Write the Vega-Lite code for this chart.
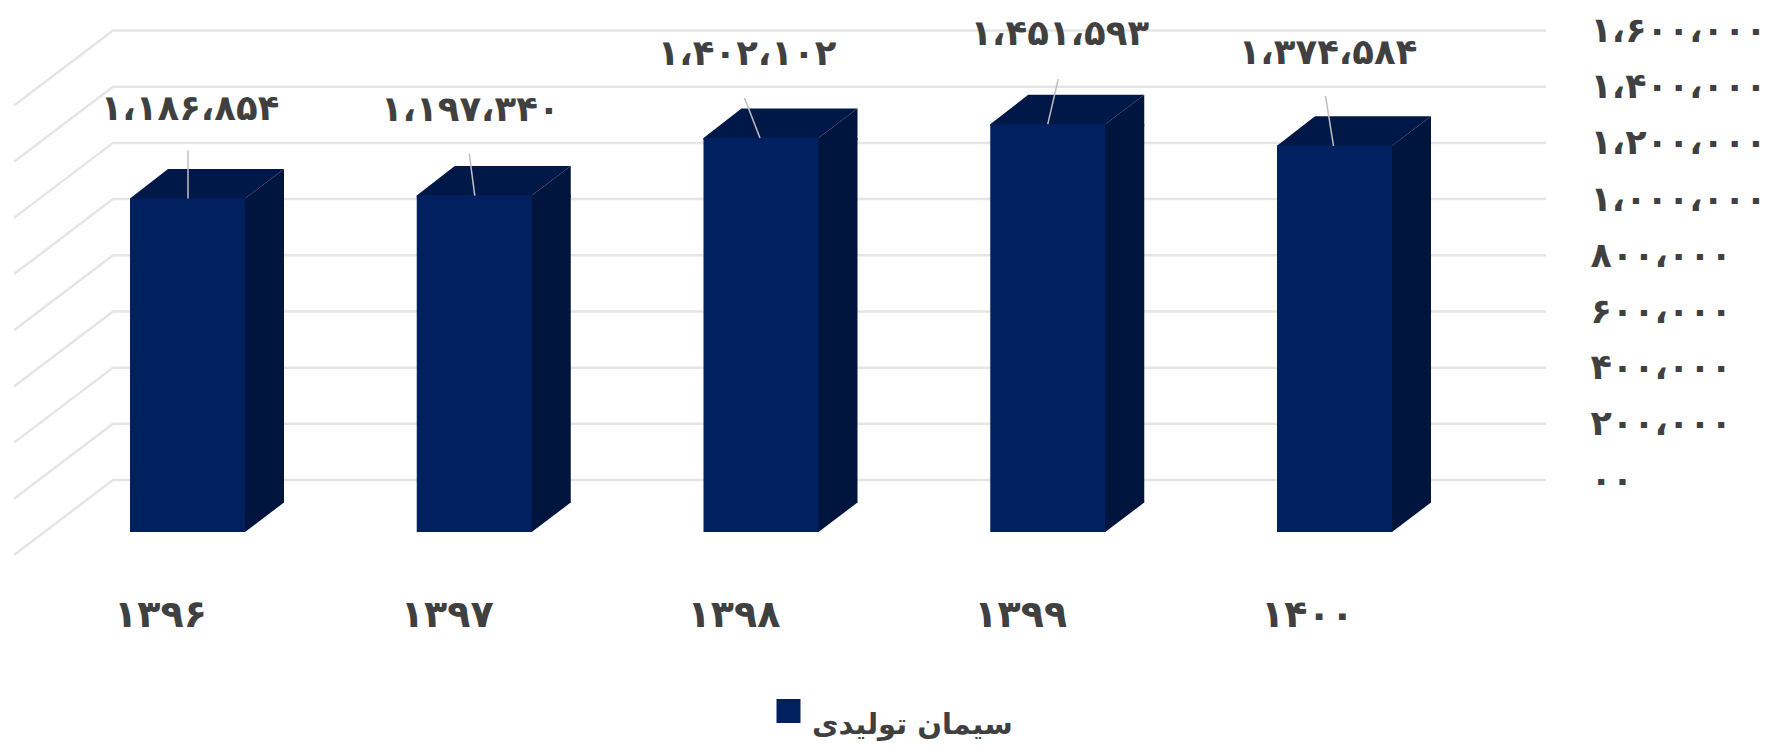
{
"$schema":"https://vega.github.io/schema/vega-lite/v6.json",
"autosize":"none",
"padding":{"left":113,"top":30.5,"right":234,"bottom":270},
"width":1433,
"height":449.5,
"background":"white",
"config":{"view":{"stroke":null},"font":"DejaVu Sans"},
"datasets":{
"bars":[
{"year":"۱۳۹۶","value":1186854,"label":"۱،۱۸۶،۸۵۴","series":"سیمان تولیدی"},
{"year":"۱۳۹۷","value":1197340,"label":"۱،۱۹۷،۳۴۰","series":"سیمان تولیدی"},
{"year":"۱۳۹۸","value":1402102,"label":"۱،۴۰۲،۱۰۲","series":"سیمان تولیدی"},
{"year":"۱۳۹۹","value":1451593,"label":"۱،۴۵۱،۵۹۳","series":"سیمان تولیدی"},
{"year":"۱۴۰۰","value":1374584,"label":"۱،۳۷۴،۵۸۴","series":"سیمان تولیدی"}],
"ticks":[{"t":0},{"t":200000},{"t":400000},{"t":600000},{"t":800000},{"t":1000000},{"t":1200000},{"t":1400000},{"t":1600000}]
},
"data":{"name":"bars"},
"encoding":{
"x":{"field":"year","type":"nominal","sort":null,
"scale":{"domain":["۱۳۹۶","۱۳۹۷","۱۳۹۸","۱۳۹۹","۱۴۰۰"],"range":[-68.875,1364.875],"padding":0},
"axis":{"title":null,"domain":false,"ticks":false,"grid":false,"labelAngle":0,"labelFont":"DejaVu Sans","labelFontSize":38,"labelFontWeight":"bold","labelColor":"#404040","labelPadding":135,"labelOffset":-27,"labelBaseline":"middle","labelAlign":"center"}},
"y":{"field":"value","type":"quantitative",
"scale":{"domain":[0,1600000],"nice":false,"zero":true},
"axis":{"title":null,"orient":"right","domain":false,"ticks":false,"grid":false,"values":[0,200000,400000,600000,800000,1000000,1200000,1400000,1600000],
"labelExpr":"{'0':'۰۰','200000':'۲۰۰،۰۰۰','400000':'۴۰۰،۰۰۰','600000':'۶۰۰،۰۰۰','800000':'۸۰۰،۰۰۰','1000000':'۱،۰۰۰،۰۰۰','1200000':'۱،۲۰۰،۰۰۰','1400000':'۱،۴۰۰،۰۰۰','1600000':'۱،۶۰۰،۰۰۰'}[''+datum.value]",
"labelFont":"DejaVu Sans","labelFontSize":35,"labelFontWeight":"bold","labelColor":"#404040","labelPadding":44,"labelAlign":"left","labelBaseline":"middle","labelLimit":300}}
},
"layer":[
{"data":{"values":[{"c":"corner"}]},
 "mark":{"type":"point","filled":true,"opacity":1,"size":4,"strokeWidth":0,"fill":"#f1f1f1","shape":"M353.5,-30.5L445.5,-30.5L445.5,38.5Z"},
 "encoding":{"x":{"datum":"۱۴۰۰"},"y":{"datum":1600000}}},
{"data":{"name":"ticks"},
 "mark":{"type":"point","filled":false,"opacity":1,"size":4,"strokeWidth":2.5,"stroke":"#e5e5e5","shape":"M1358.5,0L-74.5,0L-173.5,75"},
 "encoding":{"x":{"datum":"۱۳۹۶"},"y":{"field":"t","type":"quantitative"}}},
{"mark":{"type":"bar","width":41,"xOffset":76,"yOffset":52,"y2Offset":22.5,"fill":"#00153e"},
 "encoding":{"y":{"field":"value","type":"quantitative"},"y2":{"datum":0}}},
{"mark":{"type":"point","filled":true,"opacity":1,"size":4,"strokeWidth":0,"fill":"#00153e","shape":"M55,21.5L96.5,21.5L96.5,22.5L57.5,52L55,52Z"},
 "encoding":{"y":{"datum":0}}},
{"mark":{"type":"point","filled":true,"opacity":1,"size":4,"strokeWidth":0,"fill":"#001848","shape":"M-57.5,52L-57.5,54L57.5,54L57.5,52L96.5,22.5L-19.5,22.5Z"}},
{"mark":{"type":"point","filled":true,"opacity":1,"size":4,"strokeWidth":0,"fill":"#00153e","shape":"M55,54L57.5,52L96.5,22.5L96.5,54Z"}},
{"mark":{"type":"bar","width":115,"yOffset":52,"y2Offset":52},
 "encoding":{"y":{"field":"value","type":"quantitative"},"y2":{"datum":0},
 "color":{"field":"series","type":"nominal","scale":{"range":["#002060"]},
 "legend":{"title":null,"orient":"none","legendX":661,"legendY":666,"symbolType":"square","symbolSize":576,"symbolStrokeWidth":0,"symbolOpacity":1,"labelFont":"DejaVu Sans","labelFontSize":29,"labelFontWeight":"bold","labelColor":"#404040","labelOffset":9,"labelLimit":400,"labelBaseline":"top","padding":0}}}},
{"mark":{"type":"rule","color":"#bfbfbf","strokeWidth":1.5,"yOffset":52,
 "y2Offset":{"expr":"52+{'۱۳۹۶':-48,'۱۳۹۷':-42,'۱۳۹۸':-40,'۱۳۹۹':-45,'۱۴۰۰':-50}[datum.year]"},
 "xOffset":{"expr":"{'۱۳۹۶':0.5,'۱۳۹۷':0.5,'۱۳۹۸':-1,'۱۳۹۹':0,'۱۴۰۰':-1}[datum.year]"},
 "x2Offset":{"expr":"{'۱۳۹۶':0.5,'۱۳۹۷':-5,'۱۳۹۸':-16.5,'۱۳۹۹':10.5,'۱۴۰۰':-9}[datum.year]"}},
 "encoding":{"x2":{"field":"year"},"y2":{"field":"value"}}},
{"mark":{"type":"text","font":"DejaVu Sans","fontSize":35.5,"fontWeight":"bold","color":"#404040","align":"center","baseline":"middle",
 "dx":{"expr":"{'۱۳۹۶':2.5,'۱۳۹۷':-4,'۱۳۹۸':-14,'۱۳۹۹':12,'۱۴۰۰':-6.5}[datum.year]"},
 "dy":{"expr":"52+{'۱۳۹۶':-90,'۱۳۹۷':-86,'۱۳۹۸':-84,'۱۳۹۹':-90,'۱۴۰۰':-93}[datum.year]"}},
 "encoding":{"text":{"field":"label"}}}
]
}
